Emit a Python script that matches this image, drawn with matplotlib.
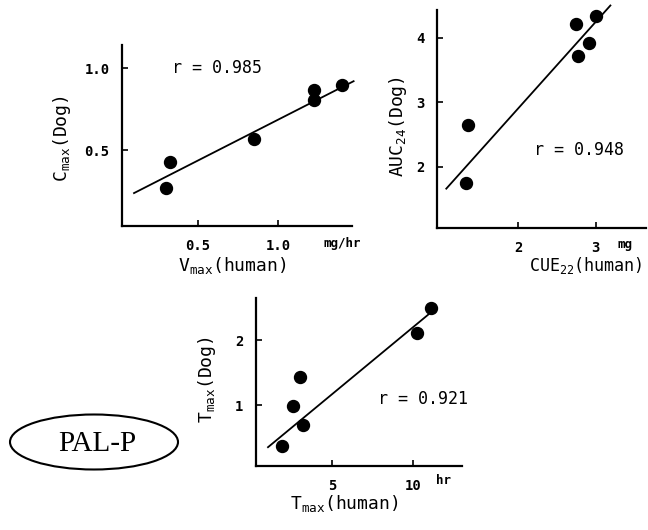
import matplotlib
matplotlib.use("Agg")
import matplotlib.pyplot as plt
from matplotlib.patches import Ellipse

plt.rcParams['font.family'] = ['DejaVu Sans Mono']
plt.rcParams['mathtext.fontset'] = 'custom'
plt.rcParams['mathtext.rm'] = 'DejaVu Sans Mono'
plt.rcParams['mathtext.it'] = 'DejaVu Sans Mono'
plt.rcParams['mathtext.bf'] = 'DejaVu Sans Mono:bold'

W, H = 648, 530

# Cmax (Dog) vs Vmax (human)
vmax_human = [0.30, 0.325, 0.85, 1.22, 1.22, 1.40]
cmax_dog = [0.27, 0.43, 0.567, 0.866, 0.805, 0.896]
fit1_x = [0.10, 1.47]
fit1_y = [0.24, 0.92]

# AUC24 (Dog) vs CUE22 (human)
cue_human = [1.33, 1.35, 2.74, 2.77, 2.92, 3.00]
auc_dog = [1.75, 2.65, 4.22, 3.71, 3.92, 4.34]
fit2_x = [1.07, 3.19]
fit2_y = [1.66, 4.50]

# Tmax (Dog) vs Tmax (human)
tmax_human = [1.9, 2.6, 3.0, 3.2, 10.2, 11.1]
tmax_dog = [0.37, 0.98, 1.43, 0.69, 2.11, 2.49]
fit3_x = [1.05, 10.95]
fit3_y = [0.35, 2.40]


def px_axes(fig, x0, y0, x1, y1):
    # box given in image pixels (top-left origin)
    return fig.add_axes([x0 / W, 1 - y1 / H, (x1 - x0) / W, (y1 - y0) / H])


def style(ax):
    for s in ('top', 'right'):
        ax.spines[s].set_visible(False)
    for s in ('left', 'bottom'):
        ax.spines[s].set_linewidth(1.6)
    ax.tick_params(direction='in', length=4, width=1.2, labelsize=10, pad=9)
    for lab in ax.get_xticklabels() + ax.get_yticklabels():
        lab.set_fontweight('bold')


def ftext(fig, x, y, s, **kw):
    fig.text(x / W, 1 - y / H, s, ha='center', va='center', **kw)


fig = plt.figure(figsize=(W / 100, H / 100), dpi=100)

# ---- panel 1
ax1 = px_axes(fig, 122, 45, 352, 226)
ax1.plot(fit1_x, fit1_y, color='black', lw=1.3, clip_on=False)
ax1.plot(vmax_human, cmax_dog, 'o', color='black', ms=8.6, clip_on=False)
ax1.set_xlim(0.025, 1.46)
ax1.set_ylim(0.04, 1.14)
ax1.set_xticks([0.5, 1.0])
ax1.set_xticklabels(['0.5', '1.0'])
ax1.set_yticks([0.5, 1.0])
ax1.set_yticklabels(['0.5', '1.0'])
style(ax1)
ax1.text(1.28, -0.095, 'mg/hr', transform=ax1.get_xaxis_transform(),
         ha='left', va='center', fontsize=9, fontweight='bold')
ax1.text(0.34, 1.0, 'r = 0.985', fontsize=12, va='center', ha='left')
ftext(fig, 62, 139, r'C$_{max}$(Dog)', rotation=90, fontsize=13)
ftext(fig, 232, 266, r'V$_{max}$(human)', fontsize=13)

# ---- panel 2
ax2 = px_axes(fig, 437, 10, 646, 228)
ax2.plot(fit2_x, fit2_y, color='black', lw=1.3, clip_on=False)
ax2.plot(cue_human, auc_dog, 'o', color='black', ms=8.6, clip_on=False)
ax2.set_xlim(0.95, 3.65)
ax2.set_ylim(1.05, 4.43)
ax2.set_xticks([2, 3])
ax2.set_xticklabels(['2', '3'])
ax2.set_yticks([2, 3, 4])
ax2.set_yticklabels(['2', '3', '4'])
style(ax2)
ax2.text(3.28, -0.075, 'mg', transform=ax2.get_xaxis_transform(),
         ha='left', va='center', fontsize=9, fontweight='bold')
ax2.text(2.2, 2.26, 'r = 0.948', fontsize=12, va='center', ha='left')
ftext(fig, 398, 127, r'AUC$_{24}$(Dog)', rotation=90, fontsize=13)
ftext(fig, 586, 266, r'CUE$_{22}$(human)', fontsize=12)

# ---- panel 3
ax3 = px_axes(fig, 256, 298, 462, 466)
ax3.plot(fit3_x, fit3_y, color='black', lw=1.3, clip_on=False)
ax3.plot(tmax_human, tmax_dog, 'o', color='black', ms=8.6, clip_on=False)
ax3.set_xlim(0.31, 13.0)
ax3.set_ylim(0.06, 2.65)
ax3.set_xticks([5, 10])
ax3.set_xticklabels(['5', '10'])
ax3.set_yticks([1, 2])
ax3.set_yticklabels(['1', '2'])
style(ax3)
ax3.text(11.4, -0.085, 'hr', transform=ax3.get_xaxis_transform(),
         ha='left', va='center', fontsize=9, fontweight='bold')
ax3.text(7.8, 1.1, 'r = 0.921', fontsize=12, va='center', ha='left')
ftext(fig, 207, 380, r'T$_{max}$(Dog)', rotation=90, fontsize=13)
ftext(fig, 344, 503, r'T$_{max}$(human)', fontsize=13)

# ---- PAL-P label
oval = Ellipse((94 / W, 1 - 442 / H), 168 / W, 55 / H, transform=fig.transFigure,
               fill=False, edgecolor='black', lw=1.5)
fig.patches.append(oval)
fig.text(97 / W, 1 - 444 / H, 'PAL-P', family='Liberation Serif', fontsize=21,
         ha='center', va='center')

fig.savefig('out.png', dpi=100)
